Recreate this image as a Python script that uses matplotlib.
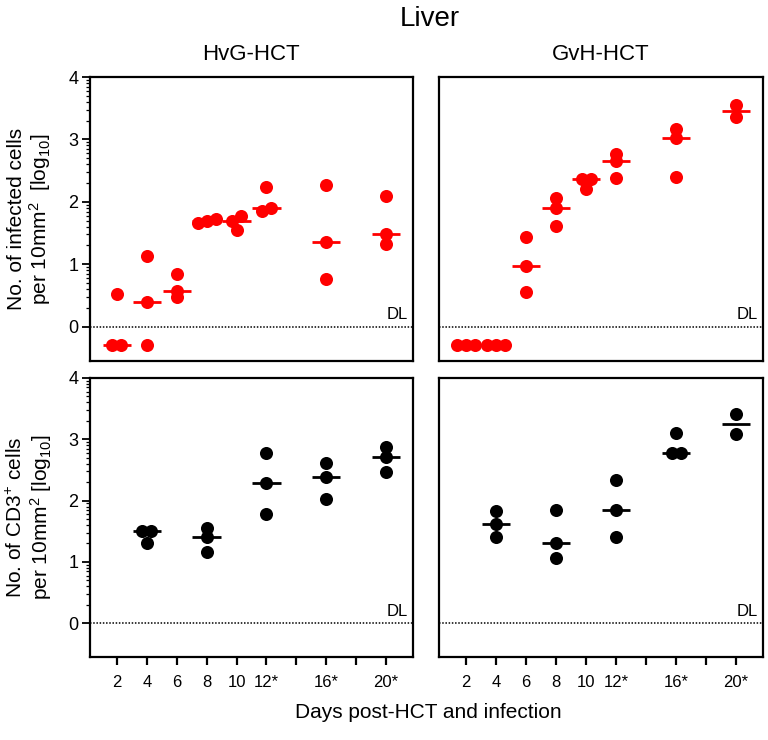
import numpy as np
import matplotlib
matplotlib.use("Agg")
import matplotlib.pyplot as plt

plt.rcParams['font.family'] = ['Liberation Sans', 'DejaVu Sans']
plt.rcParams['mathtext.fontset'] = 'custom'
plt.rcParams['mathtext.rm'] = 'Liberation Sans'
plt.rcParams['mathtext.it'] = 'Liberation Sans:italic'

# ---------------- data (log10 values; -0.3 = below detection limit) ----------
days = [2, 4, 6, 8, 10, 12, 14, 16, 18, 20]
day_labels = ["2", "4", "6", "8", "10", "12*", "", "16*", "", "20*"]

hvg_infected = {
    2: [0.53, -0.3, -0.3],
    4: [1.13, 0.40, -0.3],
    6: [0.85, 0.57, 0.47],
    8: [1.69, 1.73, 1.66],
    10: [1.70, 1.78, 1.55],
    12: [1.90, 1.85, 2.24],
    16: [2.27, 1.35, 0.77],
    20: [2.09, 1.49, 1.33],
}
gvh_infected = {
    2: [-0.3, -0.3, -0.3],
    4: [-0.3, -0.3, -0.3],
    6: [1.43, 0.98, 0.55],
    8: [2.06, 1.90, 1.61],
    10: [2.37, 2.36, 2.20],
    12: [2.77, 2.65, 2.38],
    16: [3.16, 3.02, 2.40],
    20: [3.55, 3.36],
}
hvg_cd3 = {
    4: [1.51, 1.51, 1.31],
    8: [1.56, 1.41, 1.16],
    12: [2.77, 2.28, 1.79],
    16: [2.61, 2.38, 2.02],
    20: [2.88, 2.71, 2.46],
}
gvh_cd3 = {
    4: [1.83, 1.62, 1.40],
    8: [1.84, 1.31, 1.06],
    12: [2.33, 1.85, 1.40],
    16: [3.11, 2.78, 2.78],
    20: [3.42, 3.08],
}

col_titles = ["HvG-HCT", "GvH-HCT"]
ylabels = ["No. of infected cells\nper 10mm$^{2}$  [log$_{10}$]",
           "No. of CD3$^{+}$ cells\nper 10mm$^{2}$ [log$_{10}$]"]

RED = '#ff0000'
BLACK = '#000000'
YMIN, YMAX = -0.55, 4


def swarm_offsets(vals, thresh=0.09, step=0.6):
    vals = np.asarray(vals, float)
    order = np.argsort(vals)
    offs = np.zeros(len(vals))
    clusters = []
    cur = [order[0]]
    for a, b in zip(order[:-1], order[1:]):
        if vals[b] - vals[a] <= thresh:
            cur.append(b)
        else:
            clusters.append(cur)
            cur = [b]
    clusters.append(cur)
    for cl in clusters:
        n = len(cl)
        for i, idx in enumerate(cl):
            offs[idx] = (i - (n - 1) / 2) * step
    return offs


fig = plt.figure(figsize=(7.68, 7.40), dpi=100)
W, H = 768, 740


def ax_rect(l, t, r, b):
    return [l / W, 1 - b / H, (r - l) / W, (b - t) / H]


rects = [
    [ax_rect(90, 77, 413, 361), ax_rect(439, 77, 763, 361)],
    [ax_rect(90, 378, 413, 657), ax_rect(439, 378, 763, 657)],
]
datasets = [[hvg_infected, gvh_infected], [hvg_cd3, gvh_cd3]]
colors = [RED, BLACK]

minor = [n + np.log10(k) for n in range(4) for k in range(2, 10)]

for r in range(2):
    for c in range(2):
        ax = fig.add_axes(rects[r][c])
        data = datasets[r][c]
        col = colors[r]
        for d, vals in data.items():
            offs = swarm_offsets(vals)
            ax.plot(np.array([d] * len(vals)) + offs, vals, 'o', color=col,
                    markersize=9.4, markeredgewidth=0, zorder=3)
            med = np.median(vals)
            ax.plot([d - 0.95, d + 0.95], [med, med], '-', color=col, lw=2.0,
                    solid_capstyle='butt', zorder=4)
        ax.axhline(0, color='black', lw=1.1, ls=(0, (1, 1.1)), zorder=1)
        ax.text(0.985, (0 - YMIN) / (YMAX - YMIN) + 0.015, "DL", transform=ax.transAxes,
                ha='right', va='bottom', fontsize=12)
        ax.set_xlim(0.2, 21.8)
        ax.set_ylim(YMIN, YMAX)
        for sp in ax.spines.values():
            sp.set_linewidth(1.6)
        ax.set_yticks([0, 1, 2, 3, 4])
        ax.set_yticks(minor, minor=True)
        ax.tick_params(axis='y', which='major', direction='out', length=5.5, width=1.3,
                       labelsize=13, pad=3)
        ax.tick_params(axis='y', which='minor', direction='out', length=3.2, width=0.9)
        if c == 1:
            ax.tick_params(axis='y', which='both', left=False, labelleft=False)
        if r == 1:
            ax.set_xticks(days)
            ax.set_xticklabels(day_labels)
            ax.tick_params(axis='x', direction='out', length=6, width=1.6,
                           labelsize=12, pad=7)
        else:
            ax.set_xticks([])

    fig.text(30 / W, 1 - ((77 + 361) / 2 if r == 0 else (378 + 657) / 2) / H, ylabels[r],
             rotation=90, ha='center', va='center', fontsize=15, linespacing=1.1)

fig.text(251 / W, 1 - 54 / H, col_titles[0], ha='center', va='center', fontsize=16)
fig.text(601 / W, 1 - 54 / H, col_titles[1], ha='center', va='center', fontsize=16)
fig.text(430 / W, 1 - 19 / H, "Liver", ha='center', va='center', fontsize=20)
fig.text(428 / W, 1 - 712 / H, "Days post-HCT and infection", ha='center', va='center',
         fontsize=15)

fig.savefig("out.png", dpi=100)
